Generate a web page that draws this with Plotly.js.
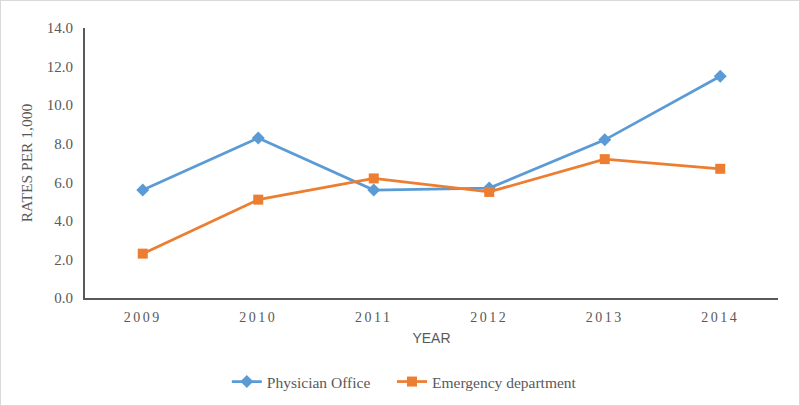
<!DOCTYPE html>
<html>
<head>
<meta charset="utf-8">
<script src="https://cdn.plot.ly/plotly-3.0.1.min.js"></script>
<style>
html,body{margin:0;padding:0;background:#fff;}
#chart{width:800px;height:406px;box-sizing:border-box;border:1px solid #d9d9d9;}
.xtick text{letter-spacing:2.5px;}
</style>
</head>
<body>
<div id="chart"></div>
<script>
const years = ["2009","2010","2011","2012","2013","2014"];
const physicianOffice = [5.6, 8.3, 5.6, 5.7, 8.2, 11.5];
const emergencyDept = [2.3, 5.1, 6.2, 5.5, 7.2, 6.7];
const yTicks = [0,2,4,6,8,10,12,14];

const traces = [
  {x: years, y: physicianOffice, name: "Physician Office", type: "scatter", mode: "lines+markers", legend: "legend",
   line: {color: "#5B9BD5", width: 2.75}, marker: {symbol: "diamond", size: 10, color: "#5B9BD5"}},
  {x: years, y: emergencyDept, name: "Emergency department", type: "scatter", mode: "lines+markers", legend: "legend2",
   line: {color: "#ED7D31", width: 2.75}, marker: {symbol: "square", size: 10, color: "#ED7D31"}}
];

const legendBase = {orientation: "h", xref: "container", xanchor: "left", yref: "container", y: 0.057, yanchor: "middle",
                    font: {size: 15.5, color: "#595959"}, bgcolor: "rgba(0,0,0,0)"};

const layout = {
  width: 798, height: 404,
  margin: {l: 84, r: 21, t: 27, b: 107},
  paper_bgcolor: "#fff", plot_bgcolor: "#fff",
  font: {family: "Liberation Serif, Times New Roman, serif", color: "#595959", size: 14},
  xaxis: {
    type: "category", range: [-0.5, 5.5], automargin: false, showgrid: false, zeroline: false,
    showline: true, linecolor: "#595959", linewidth: 2,
    ticks: "outside", ticklen: 5, tickcolor: "rgba(0,0,0,0)", tickfont: {size: 14, color: "#595959"},
    title: {text: "YEAR", font: {family: "Liberation Sans Narrow, Arial Narrow, Liberation Sans, sans-serif", size: 14, color: "#595959"}, standoff: 9}
  },
  yaxis: {
    range: [0, 14], automargin: false, tickvals: yTicks, ticktext: yTicks.map(v => v.toFixed(1)),
    showgrid: false, zeroline: false, showline: true, linecolor: "#595959", linewidth: 2,
    ticks: "outside", ticklen: 7, tickcolor: "rgba(0,0,0,0)", tickfont: {size: 15, color: "#595959"},
    title: {text: "RATES PER 1,000", font: {size: 15.5, color: "#595959"}, standoff: 10}
  },
  legend: Object.assign({}, legendBase, {x: 0.283}),
  legend2: Object.assign({}, legendBase, {x: 0.490}),
  showlegend: true
};

Plotly.newPlot("chart", traces, layout, {displayModeBar: false, staticPlot: true});
</script>
</body>
</html>
